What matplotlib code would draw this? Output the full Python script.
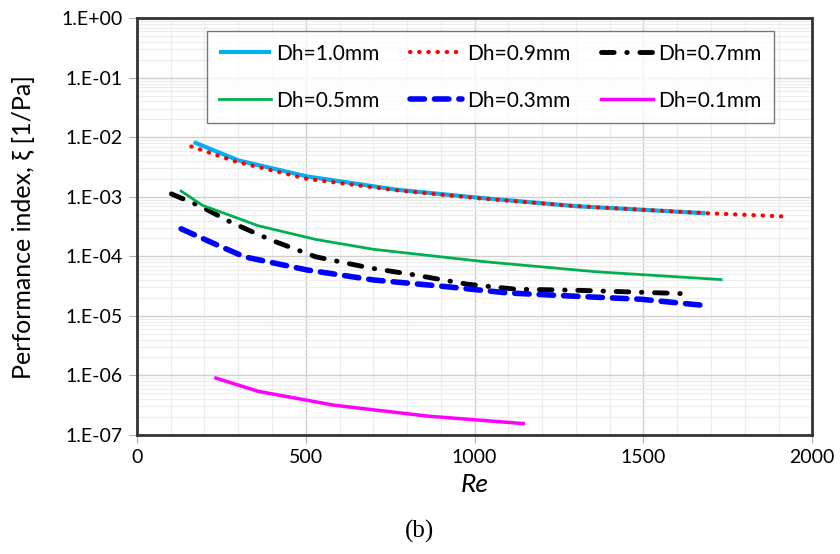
import numpy as np
import matplotlib
matplotlib.use("Agg")
import matplotlib.pyplot as plt
from matplotlib.ticker import FixedLocator, FuncFormatter, LogLocator, NullFormatter

# values
re_10 = [168, 300, 504, 768, 1000, 1295, 1684]
xi_10 = [8.3e-3, 4.1e-3, 2.2e-3, 1.32e-3, 9.8e-4, 7.0e-4, 5.3e-4]

re_09 = [161, 293, 504, 768, 1000, 1295, 1690, 1909]
xi_09 = [7.0e-3, 3.9e-3, 2.0e-3, 1.29e-3, 9.6e-4, 7.0e-4, 5.3e-4, 4.7e-4]

re_07 = [102, 187, 280, 398, 530, 689, 820, 979, 1124, 1295, 1612]
xi_07 = [1.12e-3, 7.0e-4, 3.7e-4, 1.87e-4, 9.8e-5, 6.4e-5, 4.9e-5, 3.4e-5, 2.8e-5, 2.7e-5, 2.37e-5]

re_05 = [131, 194, 359, 530, 702, 1032, 1361, 1730]
xi_05 = [1.25e-3, 7.2e-4, 3.27e-4, 1.92e-4, 1.31e-4, 8.1e-5, 5.5e-5, 4.07e-5]

re_03 = [131, 240, 319, 504, 702, 900, 1097, 1295, 1493, 1678]
xi_03 = [2.9e-4, 1.53e-4, 9.8e-5, 5.9e-5, 4.0e-5, 3.16e-5, 2.43e-5, 2.14e-5, 1.9e-5, 1.5e-5]

re_01 = [234, 359, 583, 860, 1144]
xi_01 = [9.0e-7, 5.4e-7, 3.16e-7, 2.07e-7, 1.55e-7]

plt.rcParams["font.family"] = ["Lato", "DejaVu Sans"]

fig = plt.figure(figsize=(8.4, 5.54), dpi=100)
ax = fig.add_axes([0.163, 0.215, 0.804, 0.752])

l10, = ax.plot(re_10, xi_10, color="#00b0f0", lw=3, label="Dh=1.0mm", solid_capstyle="butt")
l09, = ax.plot(re_09, xi_09, color="#ff0000", lw=3, linestyle=(0, (0.1, 2.1)),
               dash_capstyle="round", label="Dh=0.9mm")
l07, = ax.plot(re_07, xi_07, color="black", lw=3.5, linestyle=(0, (2.6, 2.6, 0.1, 2.6)),
               dash_capstyle="round", label="Dh=0.7mm")
l05, = ax.plot(re_05, xi_05, color="#00b050", lw=2, label="Dh=0.5mm")
l03, = ax.plot(re_03, xi_03, color="#0000ff", lw=4, linestyle=(0, (2.6, 1.8)),
               dash_capstyle="round", label="Dh=0.3mm")
l01, = ax.plot(re_01, xi_01, color="#ff00ff", lw=2.5, label="Dh=0.1mm")

ax.set_yscale("log")
ax.set_xlim(0, 2000)
ax.set_ylim(1e-7, 1)

ax.xaxis.set_major_locator(FixedLocator([0, 500, 1000, 1500, 2000]))
ax.xaxis.set_minor_locator(FixedLocator(np.arange(0, 2001, 100)))
ax.yaxis.set_major_locator(LogLocator(base=10, numticks=10))
ax.yaxis.set_minor_locator(LogLocator(base=10, subs=np.arange(2, 10), numticks=20))
ax.yaxis.set_minor_formatter(NullFormatter())
ax.yaxis.set_major_formatter(FuncFormatter(lambda v, p: "1.E{:+03d}".format(int(round(np.log10(v))))))

ax.grid(True, which="major", color="#d0d0d0", lw=1)
ax.grid(True, which="minor", color="#ececec", lw=0.8)
ax.set_axisbelow(True)

ax.tick_params(which="major", length=6, color="#b0b0b0", labelsize=14, pad=4)
ax.tick_params(which="minor", length=0)
for s in ax.spines.values():
    s.set_color("#333333")
    s.set_linewidth(2)

ax.set_ylabel("Performance index, ξ [1/Pa]", fontsize=18, labelpad=19)
ax.set_xlabel("Re", fontsize=19, style="italic", labelpad=5)
fig.text(0.5, 0.03, "(b)", ha="center", fontsize=18, family="Liberation Serif")

leg = ax.legend([l10, l05, l09, l03, l07, l01],
                ["Dh=1.0mm", "Dh=0.5mm", "Dh=0.9mm", "Dh=0.3mm", "Dh=0.7mm", "Dh=0.1mm"],
                ncol=3, loc="upper left", bbox_to_anchor=(0.246, 0.944),
                bbox_transform=fig.transFigure, borderaxespad=0,
                fontsize=15, frameon=True, fancybox=False, edgecolor="#555555",
                handlelength=2.5, handletextpad=0.25, columnspacing=1.45,
                labelspacing=1.3, borderpad=0.6)
leg.get_frame().set_linewidth(1)

fig.savefig("out.png", dpi=100)
